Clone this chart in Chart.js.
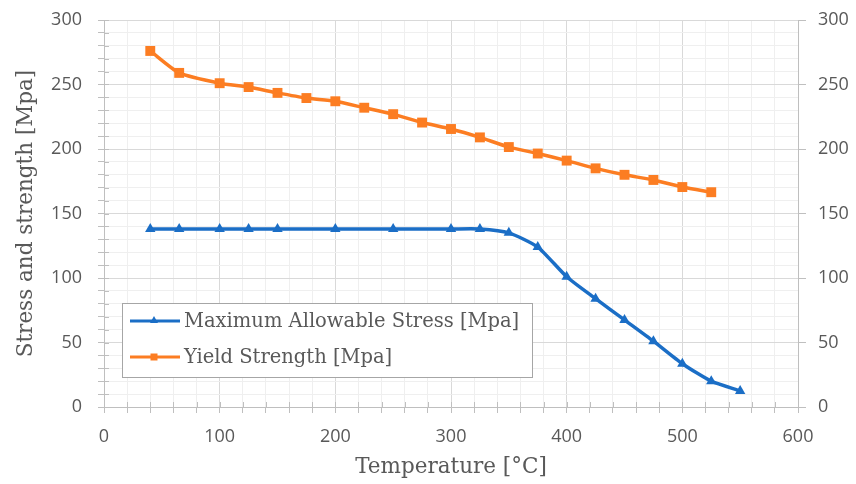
<!DOCTYPE html>
<html>
<head>
<meta charset="utf-8">
<script src="https://cdn.jsdelivr.net/npm/chart.js@4.4.1/dist/chart.umd.min.js"></script>
<style>
  html, body { margin: 0; background: #fff; }
  #wrap { width: 856px; height: 484px; }
</style>
</head>
<body>
<div id="wrap"><canvas id="chart"></canvas></div>
<script>
// temperatures (°C) and values (MPa)
const stressTemps = [40, 65, 100, 125, 150, 200, 250, 300, 325, 350, 375, 400, 425, 450, 475, 500, 525, 550];
const allowableStress = [138, 138, 138, 138, 138, 138, 138, 138, 138, 135, 124, 101, 84, 67.5, 51, 33.5, 20, 12.5];
const yieldTemps = [40, 65, 100, 125, 150, 175, 200, 225, 250, 275, 300, 325, 350, 375, 400, 425, 450, 475, 500, 525];
const yieldStrength = [276, 259, 251, 248, 243.5, 239.5, 237, 232, 227, 220.5, 215.5, 209, 201.5, 196.5, 191, 185, 180, 176, 170.5, 166.5];
const xTickLabels = [0, 100, 200, 300, 400, 500, 600];
const yTickLabels = [0, 50, 100, 150, 200, 250, 300];
const seriesNames = ['Maximum Allowable Stress [Mpa]', 'Yield Strength [Mpa]'];

const BLUE = '#1b6ec6';
const ORANGE = '#fc7d22';
const TEXT = '#595959';
const MAJOR = '#d9d9d9';
const MINOR = '#efefef';
const AXIS = '#bfbfbf';
const SERIF = '"DejaVu Serif", serif';
const SANS = '"Open Sans", sans-serif';

function toPoints(xs, ys) {
    return xs.map((x, i) => ({ x: x, y: ys[i] }));
}

function drawMarker(ctx, style, x, y, color) {
    ctx.fillStyle = color;
    ctx.beginPath();
    if (style === 'rect') {
        ctx.rect(x - 3.5, y - 3.5, 7, 7);
    } else {
        ctx.moveTo(x, y - 5);
        ctx.lineTo(x + 4, y + 2);
        ctx.lineTo(x - 4, y + 2);
        ctx.closePath();
    }
    ctx.fill();
}

// small tick marks pointing into the plot, like the Excel cross ticks
const innerTicks = {
    id: 'innerTicks',
    beforeDatasetsDraw(chart) {
        const { ctx, chartArea, scales } = chart;
        ctx.save();
        ctx.strokeStyle = AXIS;
        ctx.lineWidth = 1;
        scales.x.ticks.forEach(t => {
            const px = Math.round(scales.x.getPixelForValue(t.value)) + 0.5;
            ctx.beginPath();
            ctx.moveTo(px, chartArea.bottom);
            ctx.lineTo(px, chartArea.bottom - 5);
            ctx.stroke();
        });
        scales.y.ticks.forEach(t => {
            const py = Math.round(scales.y.getPixelForValue(t.value)) + 0.5;
            ctx.beginPath();
            ctx.moveTo(chartArea.left, py);
            ctx.lineTo(chartArea.left + 5, py);
            ctx.stroke();
        });
        ctx.restore();
    }
};

// boxed legend sitting inside the plot area
const boxLegend = {
    id: 'boxLegend',
    afterDatasetsDraw(chart) {
        const { ctx, chartArea } = chart;
        const x = chartArea.left + 18;
        const y = chartArea.top + 283;
        const w = 410;
        const h = 74;
        ctx.save();
        ctx.fillStyle = '#fff';
        ctx.fillRect(x, y, w, h);
        ctx.strokeStyle = '#a6a6a6';
        ctx.lineWidth = 1;
        ctx.strokeRect(x + 0.5, y + 0.5, w, h);
        chart.data.datasets.forEach((ds, i) => {
            const cy = y + 18 + i * 36;
            ctx.strokeStyle = ds.borderColor;
            ctx.lineWidth = 3;
            ctx.beginPath();
            ctx.moveTo(x + 8, cy);
            ctx.lineTo(x + 58, cy);
            ctx.stroke();
            drawMarker(ctx, ds.pointStyle, x + 32, cy, ds.borderColor);
            ctx.fillStyle = TEXT;
            ctx.font = '19.5px ' + SERIF;
            ctx.textBaseline = 'middle';
            ctx.textAlign = 'left';
            ctx.fillText(ds.label, x + 62, cy + 1);
        });
        ctx.restore();
    }
};

const gridColor = (step) => (c) => (c.tick && c.tick.value % step === 0 ? MAJOR : MINOR);

// pin the vertical axes so the tick label padding does not push the plot down
const pinVertical = (width) => (s) => {
    s.width = width;
    s.paddingTop = 0;
    s.paddingBottom = 0;
};

new Chart(document.getElementById('chart'), {
    type: 'line',
    data: {
        datasets: [
            {
                label: seriesNames[0],
                data: toPoints(stressTemps, allowableStress),
                borderColor: BLUE,
                backgroundColor: BLUE,
                borderWidth: 3.5,
                pointStyle: 'triangle',
                pointRadius: 6,
                pointBorderWidth: 0,
                tension: 0.2
            },
            {
                label: seriesNames[1],
                data: toPoints(yieldTemps, yieldStrength),
                borderColor: ORANGE,
                backgroundColor: ORANGE,
                borderWidth: 3.5,
                pointStyle: 'rect',
                pointRadius: 7,
                pointBorderWidth: 0,
                tension: 0.2
            }
        ]
    },
    options: {
        responsive: true,
        maintainAspectRatio: false,
        animation: false,
        layout: { padding: { top: 20, left: 0, right: 0, bottom: 0 } },
        plugins: {
            legend: { display: false },
            tooltip: { enabled: false }
        },
        scales: {
            x: {
                type: 'linear',
                min: xTickLabels[0],
                max: xTickLabels[xTickLabels.length - 1],
                afterFit: (s) => { s.height = 77; },
                ticks: {
                    stepSize: 20,
                    autoSkip: false,
                    maxRotation: 0,
                    padding: 13,
                    color: TEXT,
                    font: { family: SANS, size: 18 },
                    callback: (v) => (xTickLabels.includes(v) ? String(v) : '')
                },
                grid: { color: gridColor(100), tickColor: AXIS, tickLength: 6 },
                border: { color: AXIS },
                title: {
                    display: true,
                    text: 'Temperature [°C]',
                    color: TEXT,
                    font: { family: SERIF, size: 21.5 },
                    padding: { top: 0, bottom: 4 }
                }
            },
            y: {
                position: 'left',
                min: yTickLabels[0],
                max: yTickLabels[yTickLabels.length - 1],
                afterFit: pinVertical(104),
                ticks: {
                    stepSize: 10,
                    autoSkip: false,
                    padding: 16,
                    color: TEXT,
                    font: { family: SANS, size: 18 },
                    callback: (v) => (yTickLabels.includes(v) ? String(v) : '')
                },
                grid: { color: gridColor(50), tickColor: AXIS, tickLength: 6 },
                border: { color: AXIS },
                title: {
                    display: true,
                    text: 'Stress and strength [Mpa]',
                    color: TEXT,
                    font: { family: SERIF, size: 21.5 },
                    padding: { top: 14, bottom: 0 }
                }
            },
            y2: {
                position: 'right',
                min: yTickLabels[0],
                max: yTickLabels[yTickLabels.length - 1],
                afterFit: pinVertical(58),
                ticks: {
                    stepSize: 50,
                    padding: 12,
                    color: TEXT,
                    font: { family: SANS, size: 18 }
                },
                grid: { drawOnChartArea: false, tickColor: AXIS, tickLength: 8 },
                border: { color: AXIS }
            }
        }
    },
    plugins: [innerTicks, boxLegend]
});
</script>
</body>
</html>
